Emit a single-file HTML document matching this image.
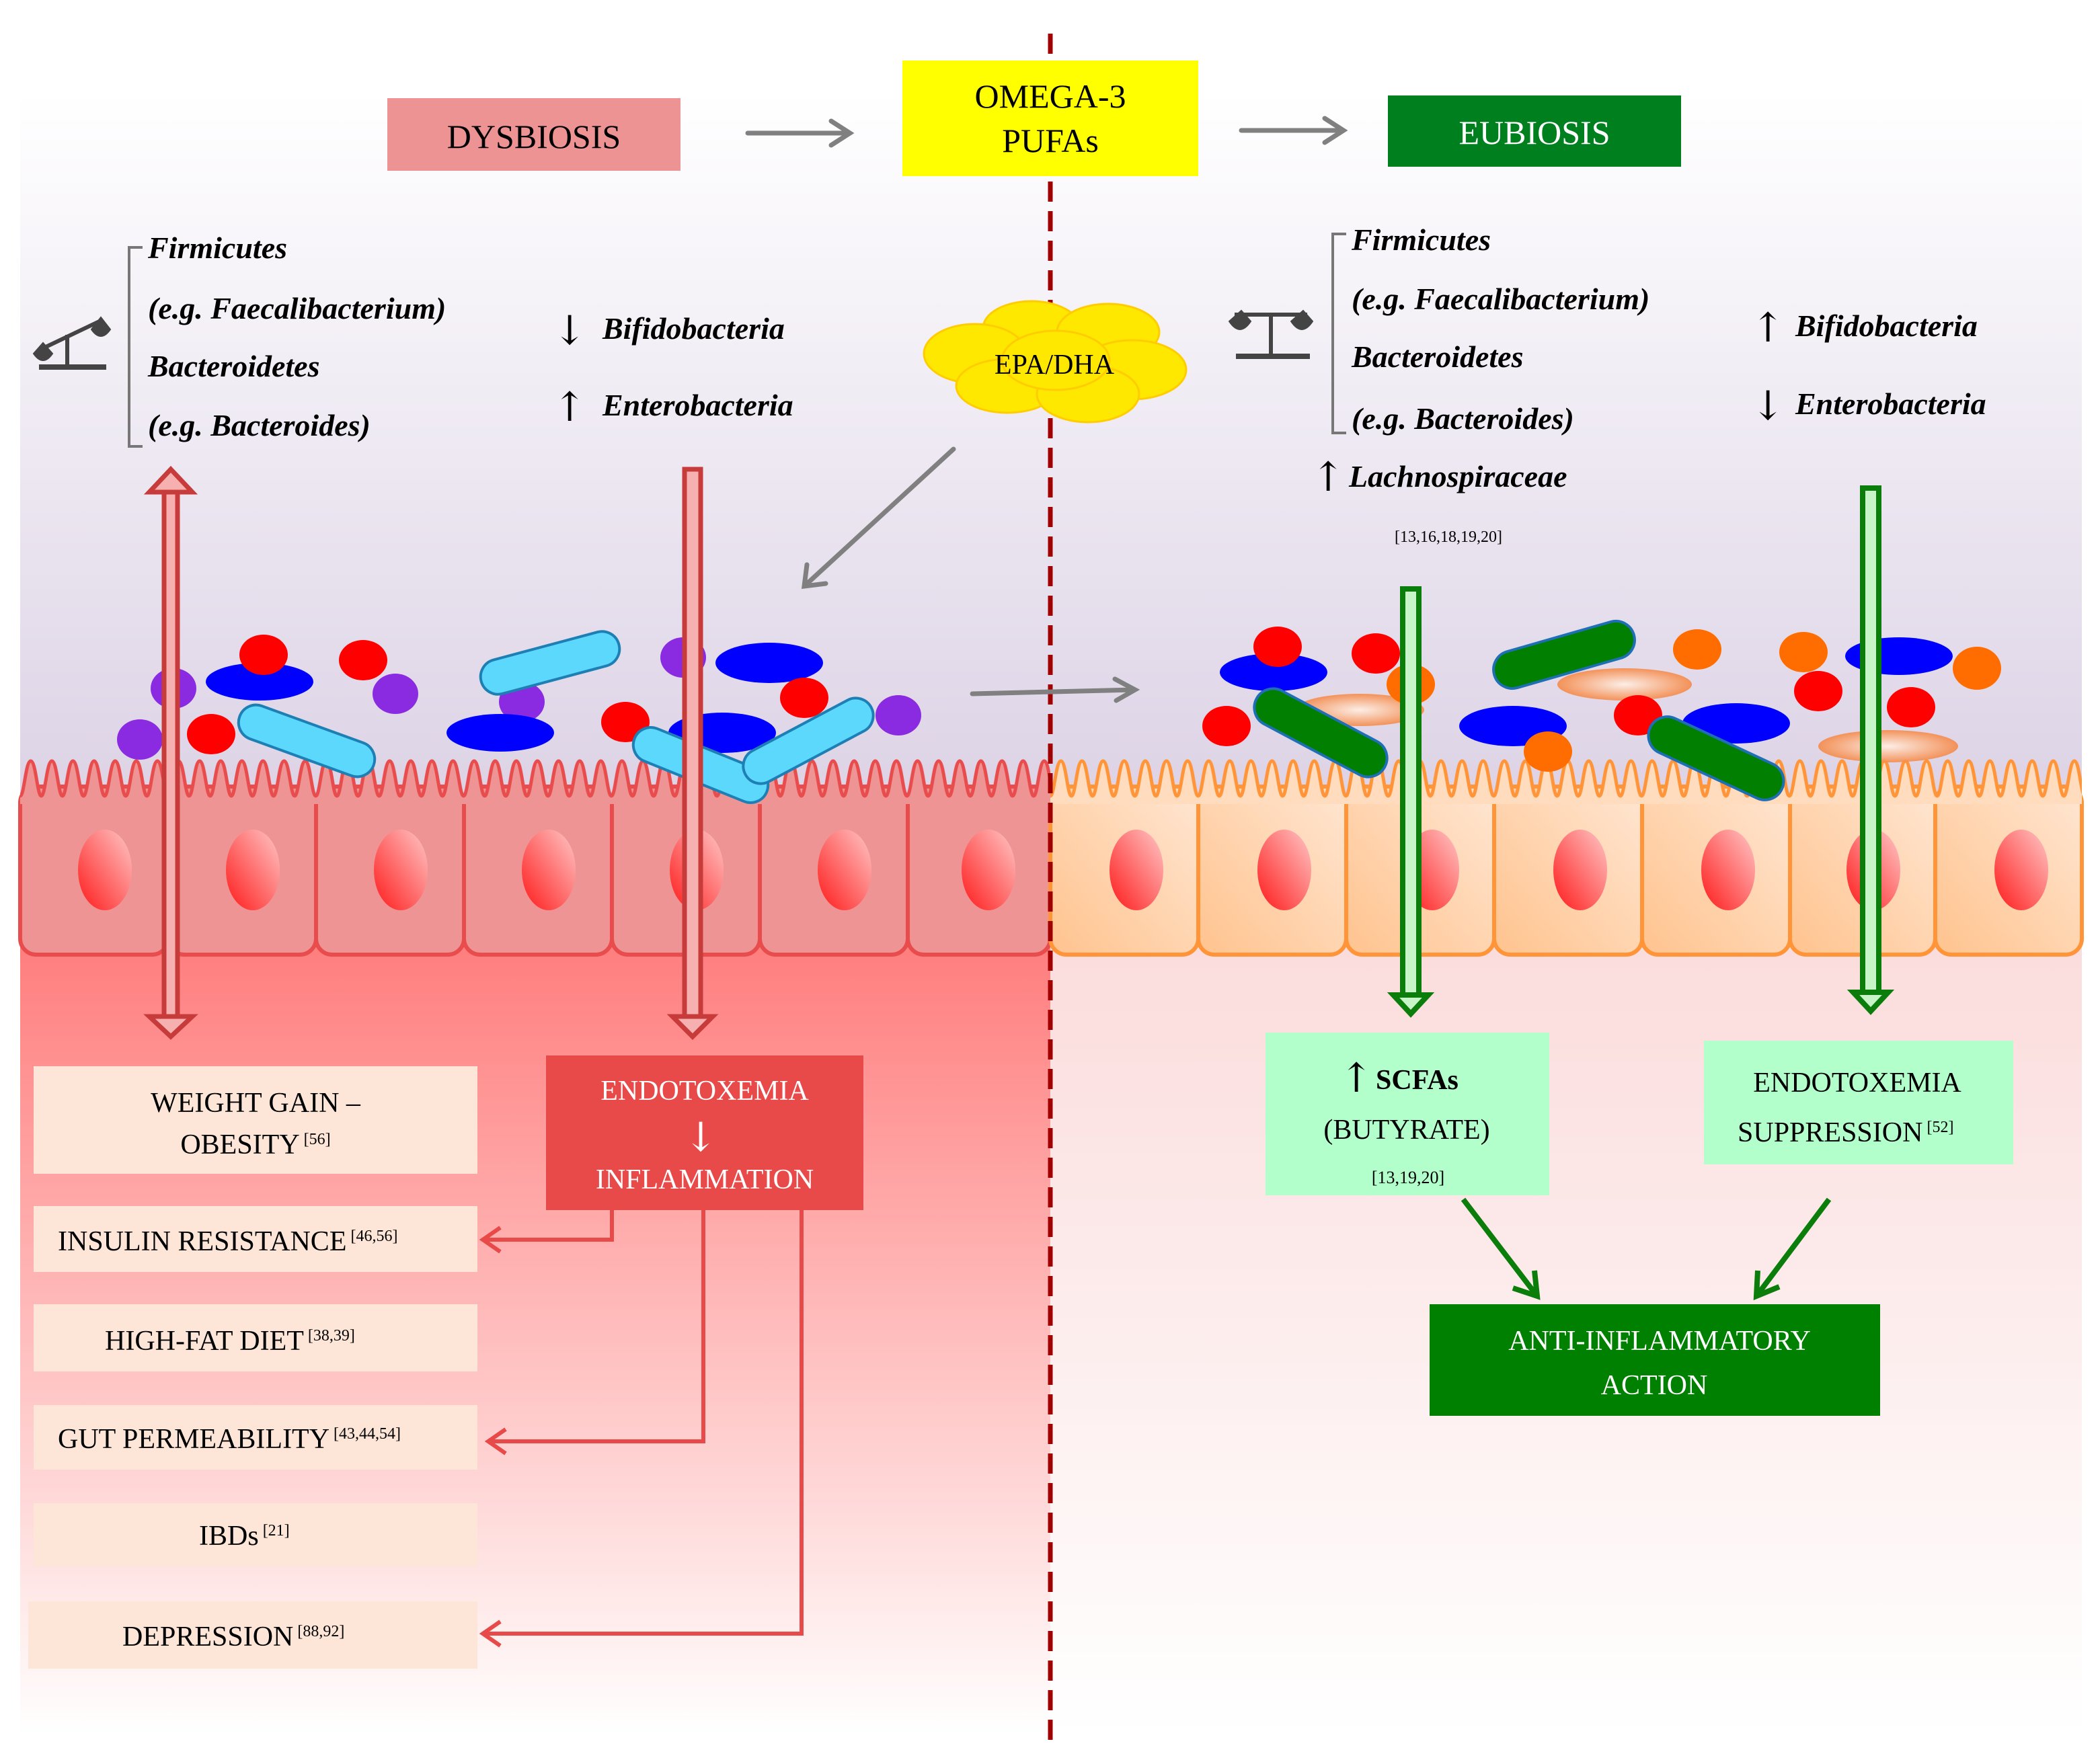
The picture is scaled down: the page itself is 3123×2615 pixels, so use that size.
<!DOCTYPE html>
<html><head><meta charset="utf-8"><style>
html,body{margin:0;padding:0;background:#fff}
svg{display:block}
text{font-family:"Liberation Serif",serif}
.it{font-style:italic;font-weight:bold;font-size:23px}
.bx{font-size:21px}
.sup{font-size:12px}
.ar{font-size:30px;font-family:"DejaVu Serif","Liberation Serif",serif}
</style></head><body>
<svg width="3123" height="2615" viewBox="0 0 1561.5 1307.5" xmlns="http://www.w3.org/2000/svg">
<defs>
<linearGradient id="top" x1="0" y1="0" x2="0" y2="1"><stop offset="0" stop-color="#ffffff"/><stop offset="1" stop-color="#dcd2e5"/></linearGradient>
<linearGradient id="lb" x1="0" y1="0" x2="0" y2="1"><stop offset="0" stop-color="#ff7d7d"/><stop offset="1" stop-color="#ffffff"/></linearGradient>
<linearGradient id="rb" x1="0" y1="0" x2="0" y2="1"><stop offset="0" stop-color="#fbdcdc"/><stop offset="1" stop-color="#ffffff"/></linearGradient>
<linearGradient id="nuc" x1="0" y1="1" x2="1" y2="0"><stop offset="0" stop-color="#ff1a1a"/><stop offset="1" stop-color="#ffc8c8"/></linearGradient>
<linearGradient id="rcell" x1="0" y1="1" x2="1" y2="0"><stop offset="0" stop-color="#ffc38e"/><stop offset="1" stop-color="#ffe6d2"/></linearGradient>
<radialGradient id="blob"><stop offset="0" stop-color="#fff0e6"/><stop offset="1" stop-color="#f58a4a"/></radialGradient>
<pattern id="wl" x="15" y="560" width="15.7" height="40" patternUnits="userSpaceOnUse">
<path d="M0,32 C3,32 4,6 7.85,6 C11.7,6 12.7,32 15.7,32 L15.7,40 L0,40Z" fill="#ee9494"/>
<path d="M0,32 C3,32 4,6 7.85,6 C11.7,6 12.7,32 15.7,32" fill="none" stroke="#e84c4c" stroke-width="2.5"/>
</pattern>
<pattern id="wr" x="781" y="560" width="15.7" height="40" patternUnits="userSpaceOnUse">
<path d="M0,32 C3,32 4,6 7.85,6 C11.7,6 12.7,32 15.7,32 L15.7,40 L0,40Z" fill="#ffdcbe"/>
<path d="M0,32 C3,32 4,6 7.85,6 C11.7,6 12.7,32 15.7,32" fill="none" stroke="#ff9438" stroke-width="2.5"/>
</pattern>
</defs>

<rect x="15" y="70" width="1533" height="530" fill="url(#top)"/>
<rect x="15" y="700" width="766" height="590" fill="url(#lb)"/>
<rect x="781" y="700" width="767" height="590" fill="url(#rb)"/>

<g stroke="#e84c4c" stroke-width="3" fill="#ee9494">
<rect x="15" y="585" width="110" height="125" rx="12"/><rect x="125" y="585" width="110" height="125" rx="12"/><rect x="235" y="585" width="110" height="125" rx="12"/><rect x="345" y="585" width="110" height="125" rx="12"/><rect x="455" y="585" width="110" height="125" rx="12"/><rect x="565" y="585" width="110" height="125" rx="12"/><rect x="675" y="585" width="106" height="125" rx="12"/>
</g>
<g stroke="#ff9438" stroke-width="3" fill="url(#rcell)">
<rect x="781" y="585" width="110" height="125" rx="12"/><rect x="891" y="585" width="110" height="125" rx="12"/><rect x="1001" y="585" width="110" height="125" rx="12"/><rect x="1111" y="585" width="110" height="125" rx="12"/><rect x="1221" y="585" width="110" height="125" rx="12"/><rect x="1331" y="585" width="108" height="125" rx="12"/><rect x="1439" y="585" width="109" height="125" rx="12"/>
</g>
<rect x="15" y="560" width="766" height="38" fill="url(#wl)"/>
<rect x="781" y="560" width="767" height="38" fill="url(#wr)"/>
<g fill="url(#nuc)">
<ellipse cx="78" cy="647" rx="20" ry="30"/><ellipse cx="188" cy="647" rx="20" ry="30"/><ellipse cx="298" cy="647" rx="20" ry="30"/><ellipse cx="408" cy="647" rx="20" ry="30"/><ellipse cx="518" cy="647" rx="20" ry="30"/><ellipse cx="628" cy="647" rx="20" ry="30"/><ellipse cx="735" cy="647" rx="20" ry="30"/>
<ellipse cx="845" cy="647" rx="20" ry="30"/><ellipse cx="955" cy="647" rx="20" ry="30"/><ellipse cx="1065" cy="647" rx="20" ry="30"/><ellipse cx="1175" cy="647" rx="20" ry="30"/><ellipse cx="1285" cy="647" rx="20" ry="30"/><ellipse cx="1393" cy="647" rx="20" ry="30"/><ellipse cx="1503" cy="647" rx="20" ry="30"/>
</g>

<g fill="#8a2be2"><ellipse cx="129" cy="512" rx="17" ry="15"/><ellipse cx="294" cy="516" rx="17" ry="15"/><ellipse cx="388" cy="522" rx="17" ry="15"/><ellipse cx="508" cy="489" rx="17" ry="15"/><ellipse cx="104" cy="550" rx="17" ry="15"/><ellipse cx="668" cy="532" rx="17" ry="15"/></g>
<g fill="#0000ff"><ellipse cx="193" cy="507" rx="40" ry="14"/><ellipse cx="372" cy="545" rx="40" ry="14"/><ellipse cx="572" cy="493" rx="40" ry="15"/><ellipse cx="537" cy="545" rx="40" ry="15"/></g>
<g fill="#ff0000"><ellipse cx="196" cy="487" rx="18" ry="15"/><ellipse cx="270" cy="491" rx="18" ry="15"/><ellipse cx="598" cy="519" rx="18" ry="15"/><ellipse cx="465" cy="537" rx="18" ry="15"/><ellipse cx="157" cy="546" rx="18" ry="15"/></g>
<g fill="#5cd8fd" stroke="#1e7fb4" stroke-width="2">
<rect x="175" y="538" width="106" height="26" rx="13" transform="rotate(20 228 551)"/>
<rect x="356" y="480" width="106" height="26" rx="13" transform="rotate(-15 409 493)"/>
<rect x="468" y="556" width="106" height="26" rx="13" transform="rotate(22 521 569)"/>
<rect x="548" y="538" width="106" height="26" rx="13" transform="rotate(-28 601 551)"/>
</g>

<g fill="url(#blob)" opacity="0.9"><ellipse cx="1011" cy="528" rx="48" ry="12"/><ellipse cx="1208" cy="509" rx="50" ry="12"/><ellipse cx="1404" cy="555" rx="52" ry="12"/></g>
<g fill="#0000ff"><ellipse cx="947" cy="500" rx="40" ry="14"/><ellipse cx="1125" cy="540" rx="40" ry="15"/><ellipse cx="1291" cy="538" rx="40" ry="15"/><ellipse cx="1412" cy="488" rx="40" ry="14"/></g>
<g fill="#ff6d00"><ellipse cx="1262" cy="483" rx="18" ry="15"/><ellipse cx="1341" cy="485" rx="18" ry="15"/><ellipse cx="1470" cy="497" rx="18" ry="16"/><ellipse cx="1049" cy="509" rx="18" ry="15"/><ellipse cx="1151" cy="559" rx="18" ry="15"/></g>
<g fill="#ff0000"><ellipse cx="950" cy="481" rx="18" ry="15"/><ellipse cx="1023" cy="486" rx="18" ry="15"/><ellipse cx="912" cy="540" rx="18" ry="15"/><ellipse cx="1218" cy="532" rx="18" ry="15"/><ellipse cx="1352" cy="514" rx="18" ry="15"/><ellipse cx="1421" cy="526" rx="18" ry="15"/></g>
<g fill="#007f00" stroke="#1e6fb4" stroke-width="2">
<rect x="928" y="531" width="108" height="28" rx="14" transform="rotate(28 982 545)"/>
<rect x="1109" y="473" width="108" height="28" rx="14" transform="rotate(-16 1163 487)"/>
<rect x="1222" y="550" width="108" height="28" rx="14" transform="rotate(25 1276 564)"/>
</g>

<line x1="781" y1="25" x2="781" y2="1295" stroke="#a00000" stroke-width="3.5" stroke-dasharray="15 7"/>

<rect x="288" y="73" width="218" height="54" fill="#ee9393"/>
<text x="397" y="110" text-anchor="middle" font-size="25">DYSBIOSIS</text>
<rect x="671" y="45" width="220" height="86" fill="#ffff00"/>
<text x="781" y="80" text-anchor="middle" font-size="25">OMEGA-3</text>
<text x="781" y="113" text-anchor="middle" font-size="25">PUFAs</text>
<rect x="1032" y="71" width="218" height="53" fill="#007f1f"/>
<text x="1141" y="107" text-anchor="middle" font-size="25" fill="#fff">EUBIOSIS</text>
<g stroke="#808080" stroke-width="3.5" fill="none" stroke-linecap="round">
<path d="M556,99 H631 M618,90 L632,99 L618,108"/>
<path d="M923,97 H998 M985,88 L999,97 L985,106"/>
<path d="M709,334 L598,436 M600,420 L598,436 L614,434"/>
<path d="M723,516 L843,513 M829,505 L844,513 L830,521"/>
</g>

<g fill="#ffe800" stroke="#ffcc00" stroke-width="1.5">
<ellipse cx="767" cy="244" rx="36" ry="20"/><ellipse cx="824" cy="247" rx="38" ry="21"/><ellipse cx="725" cy="263" rx="38" ry="22"/>
<ellipse cx="842" cy="275" rx="40" ry="22"/><ellipse cx="749" cy="287" rx="38" ry="20"/><ellipse cx="809" cy="293" rx="38" ry="21"/><ellipse cx="785" cy="268" rx="40" ry="22"/>
</g>
<text x="784" y="278" text-anchor="middle" font-size="21">EPA/DHA</text>

<path d="M106,184 H96 V332 H106" fill="none" stroke="#777" stroke-width="2"/>
<g transform="translate(24,233)" stroke="#444" fill="#444">
<line x1="5" y1="40" x2="55" y2="40" stroke-width="4"/><line x1="26" y1="40" x2="26" y2="16" stroke-width="3"/>
<line x1="8" y1="26" x2="52" y2="5" stroke-width="3"/>
<path d="M1,30 Q8,40 15,30 L8,22Z"/><path d="M44,12 Q51,22 58,12 L51,3Z"/>
</g>
<text class="it" x="110" y="192">Firmicutes</text>
<text class="it" x="110" y="237">(e.g. Faecalibacterium)</text>
<text class="it" x="110" y="280">Bacteroidetes</text>
<text class="it" x="110" y="324">(e.g. Bacteroides)</text>
<text class="ar" x="411" y="256">↓</text><text class="it" x="448" y="252">Bifidobacteria</text>
<text class="ar" x="411" y="313">↑</text><text class="it" x="448" y="309">Enterobacteria</text>

<path d="M1001,174 H991 V322 H1001" fill="none" stroke="#777" stroke-width="2"/>
<g transform="translate(914,227)" stroke="#444" fill="#444">
<line x1="5" y1="38" x2="60" y2="38" stroke-width="4"/><line x1="31" y1="38" x2="31" y2="8" stroke-width="3"/>
<line x1="4" y1="7" x2="58" y2="7" stroke-width="3"/>
<path d="M0,12 Q8,24 16,12 L9,4Z"/><path d="M46,12 Q54,24 62,12 L55,4Z"/>
</g>
<text class="it" x="1005" y="186">Firmicutes</text>
<text class="it" x="1005" y="230">(e.g. Faecalibacterium)</text>
<text class="it" x="1005" y="273">Bacteroidetes</text>
<text class="it" x="1005" y="319">(e.g. Bacteroides)</text>
<text class="ar" x="975" y="365">↑</text><text class="it" x="1003" y="362">Lachnospiraceae</text>
<text x="1077" y="403" text-anchor="middle" font-size="12">[13,16,18,19,20]</text>
<text class="ar" x="1302" y="254">↑</text><text class="it" x="1335" y="250">Bifidobacteria</text>
<text class="ar" x="1302" y="312">↓</text><text class="it" x="1335" y="308">Enterobacteria</text>

<g fill="#f6b0b0" stroke="#c83b3b" stroke-width="3.5">
<path d="M122,366 H132 V756 H122Z"/>
<path d="M127,349 L143,366 L111,366Z"/>
<path d="M127,771 L143,756 L111,756Z"/>
<path d="M509,349 H521 V756 H509Z"/>
<path d="M515,771 L530,756 L500,756Z"/>
</g>
<g fill="#c8f5c8" stroke="#0a7d0a" stroke-width="4">
<path d="M1043,438 H1055 V740 H1043Z"/>
<path d="M1049,754 L1062,740 L1036,740Z"/>
<path d="M1385,363 H1397 V738 H1385Z"/>
<path d="M1391,752 L1404,738 L1378,738Z"/>
</g>

<g fill="#fde6d8">
<rect x="25" y="793" width="330" height="80"/><rect x="25" y="897" width="330" height="49"/><rect x="25" y="970" width="330" height="50"/>
<rect x="25" y="1045" width="330" height="48"/><rect x="25" y="1118" width="330" height="47"/><rect x="21" y="1191" width="334" height="50"/>
</g>
<text class="bx" x="190" y="827" text-anchor="middle">WEIGHT GAIN –</text>
<text class="bx" x="190" y="858" text-anchor="middle">OBESITY<tspan class="sup" dy="-7"> [56]</tspan></text>
<text class="bx" x="43" y="930">INSULIN RESISTANCE<tspan class="sup" dy="-7"> [46,56]</tspan></text>
<text class="bx" x="78" y="1004">HIGH-FAT DIET<tspan class="sup" dy="-7"> [38,39]</tspan></text>
<text class="bx" x="43" y="1077">GUT PERMEABILITY<tspan class="sup" dy="-7"> [43,44,54]</tspan></text>
<text class="bx" x="148" y="1149">IBDs<tspan class="sup" dy="-7"> [21]</tspan></text>
<text class="bx" x="91" y="1224">DEPRESSION<tspan class="sup" dy="-7"> [88,92]</tspan></text>

<rect x="406" y="785" width="236" height="115" fill="#e84a4a"/>
<text class="bx" x="524" y="818" text-anchor="middle" fill="#fff">ENDOTOXEMIA</text>
<text class="ar" x="521" y="856" text-anchor="middle" fill="#fff">↓</text>
<text class="bx" x="524" y="884" text-anchor="middle" fill="#fff">INFLAMMATION</text>

<g fill="none" stroke="#e84a4a" stroke-width="3">
<path d="M455,900 V922 H360 M372,913 L359,922 L372,931"/>
<path d="M523,900 V1072 H364 M376,1063 L363,1072 L376,1081"/>
<path d="M596,900 V1215 H360 M372,1206 L359,1215 L372,1224"/>
</g>

<rect x="941" y="768" width="211" height="121" fill="#b3ffcc"/>
<text class="ar" x="996" y="812">↑</text><text x="1023" y="810" font-size="21" font-weight="bold">SCFAs</text>
<text class="bx" x="1046" y="847" text-anchor="middle">(BUTYRATE)</text>
<text x="1047" y="880" text-anchor="middle" font-size="13">[13,19,20]</text>
<rect x="1267" y="774" width="230" height="92" fill="#b3ffcc"/>
<text class="bx" x="1381" y="812" text-anchor="middle">ENDOTOXEMIA</text>
<text class="bx" x="1292" y="849">SUPPRESSION<tspan class="sup" dy="-7"> [52]</tspan></text>
<g fill="none" stroke="#0a7d0a" stroke-width="4">
<path d="M1088,892 L1143,964 M1141,945 L1143,964 L1125,958"/>
<path d="M1360,892 L1306,964 M1307,945 L1306,964 L1323,957"/>
</g>
<rect x="1063" y="970" width="335" height="83" fill="#008000"/>
<text class="bx" x="1234" y="1004" text-anchor="middle" fill="#fff">ANTI-INFLAMMATORY</text>
<text class="bx" x="1230" y="1037" text-anchor="middle" fill="#fff">ACTION</text>
</svg>
</body></html>
